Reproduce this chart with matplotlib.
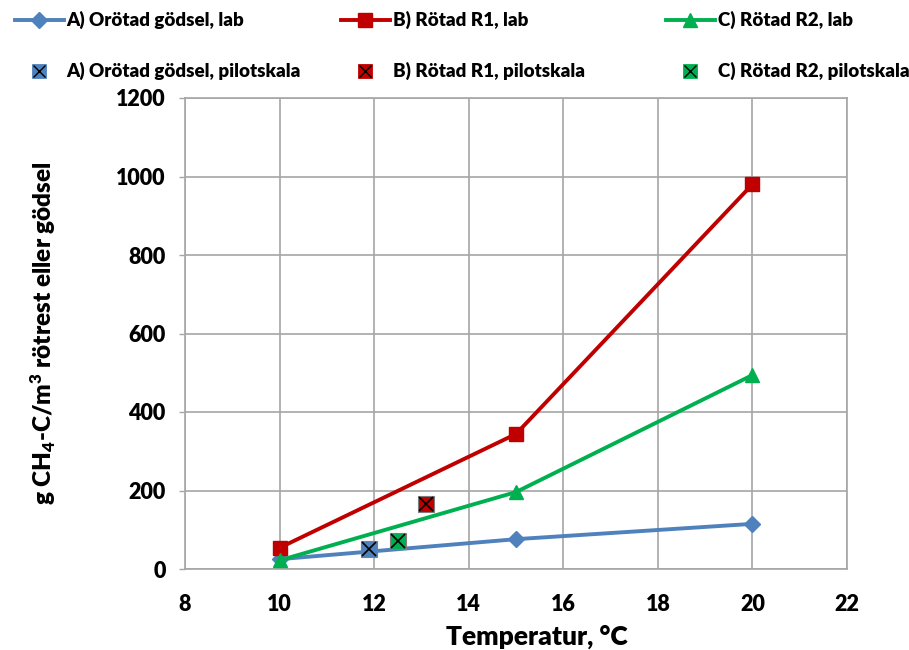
import matplotlib
matplotlib.use("Agg")
import matplotlib.pyplot as plt
from matplotlib.lines import Line2D
from matplotlib.legend_handler import HandlerTuple

plt.rcParams['font.family'] = ['Lato', 'DejaVu Sans']
plt.rcParams['font.weight'] = 'heavy'
plt.rcParams['mathtext.fontset'] = 'custom'
plt.rcParams['mathtext.rm'] = 'Lato:heavy'
plt.rcParams['mathtext.it'] = 'Lato:heavy'
plt.rcParams['mathtext.bf'] = 'Lato:heavy'

# Data
lab_temp = [10, 15, 20]
a_lab = [25, 76, 115]
b_lab = [54, 344, 980]
c_lab = [22, 196, 494]
a_pilot_x, a_pilot_y = [11.9], [51]
b_pilot_x, b_pilot_y = [13.1], [166]
c_pilot_x, c_pilot_y = [12.5], [71]

labels_lab = ["A) Orötad gödsel, lab", "B) Rötad R1, lab", "C) Rötad R2, lab"]
labels_pilot = ["A) Orötad gödsel, pilotskala", "B) Rötad R1, pilotskala", "C) Rötad R2, pilotskala"]
colors = ["#4F81BD", "#C00000", "#00B050"]
markers = ["D", "s", "^"]
msizes = [8, 10, 10.5]

x_ticks = [8, 10, 12, 14, 16, 18, 20, 22]
y_ticks = [0, 200, 400, 600, 800, 1000, 1200]

fig = plt.figure(figsize=(9.09, 6.5), dpi=100)
ax = fig.add_axes([185/909, 1-569/650, (847-185)/909, (569-98)/650])

ax.set_xlim(8, 22)
ax.set_ylim(0, 1200)
ax.set_xticks(x_ticks)
ax.set_yticks(y_ticks)
ax.grid(True, color="#a6a6a6", linewidth=1.2)
ax.set_axisbelow(True)
for s in ax.spines.values():
    s.set_color("#a6a6a6")
    s.set_linewidth(1.2)
ax.tick_params(axis='both', labelsize=15.5, colors='#a6a6a6', labelcolor='black', length=4, width=1, pad=10)
ax.tick_params(axis='x', length=0, pad=18)

lab_series = [a_lab, b_lab, c_lab]
lab_handles = []
for ys, c, m, ms in zip(lab_series, colors, markers, msizes):
    h, = ax.plot(lab_temp, ys, color=c, lw=2.8, marker=m, ms=ms, mfc=c, mec=c, zorder=3)
    lab_handles.append(h)

pilot = [(a_pilot_x, a_pilot_y), (b_pilot_x, b_pilot_y), (c_pilot_x, c_pilot_y)]
pilot_handles = []
for (px, py), c in zip(pilot, colors):
    ax.plot(px, py, ls='none', marker='s', ms=12, mfc=c, mec='#7f7f7f', mew=0.8, zorder=4)
    ax.plot(px, py, ls='none', marker='x', ms=10, mec='black', mew=1.2, zorder=5)
    h1 = Line2D([], [], ls='none', marker='s', ms=9.5, mfc=c, mec=c, mew=0.6)
    h2 = Line2D([], [], ls='none', marker='x', ms=8.5, mec='black', mew=1.0)
    pilot_handles.append((h1, h2))

ax.set_xlabel("Temperatur, °C", fontsize=19, fontweight='heavy')
ax.xaxis.set_label_coords(0.532, -0.118)
ax.set_ylabel("g CH$_4$-C/m$^3$ rötrest eller gödsel", fontsize=17.5, fontweight='heavy', labelpad=42)

col_x = [0/909, 326/909, 651/909]
for i in range(3):
    fig.legend([lab_handles[i], pilot_handles[i]], [labels_lab[i], labels_pilot[i]],
               handler_map={tuple: HandlerTuple(ndivide=1)},
               loc='upper left', bbox_to_anchor=(col_x[i], 1.0 + 4/650),
               frameon=False, fontsize=13.5, handlelength=2.6, handletextpad=0.15,
               labelspacing=1.75, borderaxespad=0.4)

fig.savefig("out.png", dpi=100)
